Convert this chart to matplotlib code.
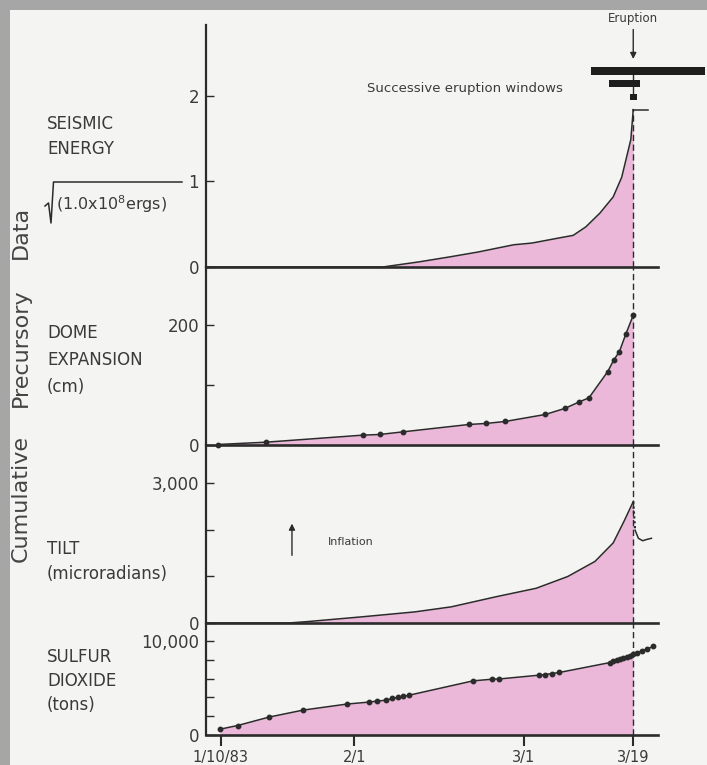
import numpy as np
import matplotlib.pyplot as plt
from matplotlib.patches import Rectangle
from matplotlib.lines import Line2D

# x values are days after 10 Jan 1983; eruption on 19 Mar
eruption_day = 68
date_ticks = [0, 22, 50, 68]
date_labels = ['1/10/83', '2/1', '3/1', '3/19']

seis_day = [-2.4, 26.7, 32.7, 37.9, 42.4, 48.3, 51.3, 55.8, 58.1, 60.2, 62.5, 64.7, 66.1, 67.6, 68.0]
seis_val = [0, 0, 0.06, 0.12, 0.175, 0.26, 0.28, 0.34, 0.37, 0.47, 0.63, 0.82, 1.05, 1.49, 1.84]
seis_end_day = [68.0, 70.4]
seis_end_val = [1.84, 1.84]

dome_day = [-0.5, 7.5, 23.4, 26.2, 30.1, 40.9, 43.7, 46.9, 53.5, 56.7, 59.1, 60.7,
            63.8, 64.8, 65.7, 66.8, 68.0]
dome_cm = [0, 3.9, 15.7, 16.8, 21.3, 33.6, 35.3, 38.7, 50.4, 60.5, 71.5, 78.4,
           122.5, 142, 155.5, 186, 217]

tilt_day = [-2.4, 11.2, 14.2, 23.1, 32.0, 38.0, 45.4, 52.0, 57.2, 61.7, 64.7, 66.5, 68.0]
tilt_val = [0, 0, 29, 130, 238, 346, 563, 744, 996, 1320, 1717, 2185, 2600]
tilt_drop_day = [68.0, 68.3]
tilt_drop_val = [2600, 1990]
tilt_after_day = [68.3, 68.85, 69.55, 70.3, 71.0]
tilt_after_val = [1990, 1815, 1763, 1793, 1815]

so2_day = [-0.1, 2.8, 8.0, 13.6, 20.8, 24.4, 25.7, 27.3, 28.3, 29.2, 30.1, 31.1,
           41.6, 44.8, 45.9, 52.4, 53.5, 54.6, 55.8,
           64.2, 64.7, 65.3, 65.8, 66.3, 66.9, 67.5, 68.0, 68.7, 69.4, 70.3, 71.3]
so2_tons = [620, 1010, 1910, 2650, 3290, 3500, 3600, 3710, 3890, 4000, 4100, 4240,
            5760, 5940, 5960, 6360, 6430, 6540, 6650,
            7710, 7870, 7980, 8090, 8160, 8300, 8440, 8620, 8760, 8940, 9150, 9420]

# successive eruption windows (start, end day)
win_start = [61.1, 64.0, 67.5]
win_end = [79.9, 69.1, 68.7]

ink = '#2b2b2b'
txt = '#3a3a3a'
pink = '#ebb8da'
plt.rcParams['font.family'] = ['DejaVu Sans']

W, H = 707, 765
fig = plt.figure(figsize=(W / 100, H / 100), dpi=100)
fig.patch.set_facecolor('#a6a6a6')
fig.add_artist(Rectangle((10 / W, 0), 1 - 10 / W, 1 - 10 / H, transform=fig.transFigure,
                         facecolor='#f4f5f2', edgecolor='none', zorder=-5))


def fx(x):
    return x / W


def fy(y):
    return 1 - y / H


def panel(top, bottom, ymax, ticks, labels):
    ax = fig.add_axes([fx(206), fy(bottom), (658 - 206) / W, (bottom - top) / H])
    ax.set_xlim(-2.42, 72.08)
    ax.set_ylim(0, ymax)
    ax.patch.set_alpha(0)
    for s in ['top', 'right', 'bottom']:
        ax.spines[s].set_visible(False)
    ax.spines['left'].set_linewidth(1.6)
    ax.spines['left'].set_color(ink)
    ax.set_yticks(ticks, labels)
    ax.tick_params(axis='y', direction='in', length=6, width=1, pad=5,
                   labelsize=12, color=ink, labelcolor=txt)
    ax.set_xticks([])
    ax.axhline(0, color=ink, lw=1.9, clip_on=False, zorder=4)
    return ax


ax1 = panel(25, 267, 2.83, [0, 1, 2], ['0', '1', '2'])
ax2 = panel(267, 444.5, 298, [0, 100, 200], ['0', '', '200'])
ax3 = panel(444.5, 623, 3825, [0, 1000, 2000, 3000], ['0', '', '', '3,000'])
ax4 = panel(623, 735, 11915, [0, 2000, 4000, 6000, 8000, 10000],
            ['0', '', '', '', '', '10,000'])

dash = (0, (4.5, 2.5))


def curve(ax, d, v, marker=None):
    d = np.asarray(d)
    v = np.asarray(v)
    ax.fill_between(d, v, 0, where=d <= eruption_day, color=pink, lw=0, zorder=1)
    ax.plot(d, v, color=ink, lw=1.1, marker=marker, ms=3.2, zorder=5, clip_on=False)


# seismic energy
curve(ax1, seis_day, seis_val)
ax1.plot(seis_end_day, seis_end_val, color=ink, lw=1.1, zorder=5)
ax1.vlines(eruption_day, 0, seis_val[-1], color=ink, lw=1, linestyle=dash, zorder=3)
bars = ax1.barh([2.295, 2.144, 1.99], np.subtract(win_end, win_start), left=win_start,
                height=[0.097, 0.085, 0.067], color='#1e1e1e', zorder=6)
for b in bars:
    b.set_clip_on(False)
ax1.plot([eruption_day, eruption_day], [1.99, 2.3], color=ink, lw=1, zorder=5)
ax1.annotate('', xy=(eruption_day, 2.40), xytext=(eruption_day, 2.81),
             arrowprops=dict(arrowstyle='-|>', color=ink, lw=1, mutation_scale=9),
             annotation_clip=False)
ax1.text(eruption_day, 2.91, 'Eruption', ha='center', va='center', fontsize=8.5, color=txt)
ax1.text(40.2, 2.09, 'Successive eruption windows', ha='center', va='center',
         fontsize=9.5, color=txt)

# dome expansion
curve(ax2, dome_day, dome_cm, marker='o')
ax2.axvline(eruption_day, color=ink, lw=1, linestyle=dash, zorder=3)

# tilt
curve(ax3, tilt_day, tilt_val)
ax3.plot(tilt_drop_day, tilt_drop_val, color=ink, lw=1.6, linestyle=(0, (1, 1.2)), zorder=5)
ax3.plot(tilt_after_day, tilt_after_val, color=ink, lw=1.1, zorder=5, clip_on=False)
ax3.axvline(eruption_day, color=ink, lw=1, linestyle=dash, zorder=3)
ax3.annotate('', xy=(11.75, 2190), xytext=(11.75, 1390),
             arrowprops=dict(arrowstyle='-|>', color=ink, lw=1, mutation_scale=9))
ax3.text(21.5, 1736, 'Inflation', ha='center', va='center', fontsize=8, color=txt)

# sulfur dioxide
curve(ax4, so2_day, so2_tons, marker='o')
ax4.axvline(eruption_day, color=ink, lw=1, linestyle=dash, zorder=3)
ax4.set_xticks(date_ticks, date_labels)
ax4.tick_params(axis='x', direction='out', length=8, width=1.5, pad=2.5,
                labelsize=10.5, color=ink, labelcolor=txt)

# panel labels
lab = dict(fontsize=12, color=txt, ha='left', va='center')
fig.text(fx(47), fy(124), 'SEISMIC', **lab)
fig.text(fx(47), fy(149), 'ENERGY', **lab)
fig.text(fx(56), fy(204), '(1.0x10$^{8}$ergs)', fontsize=11.5, color=txt, ha='left', va='center')
fig.add_artist(Line2D([fx(45), fx(48.5), fx(51), fx(53.5), fx(182)],
                      [fy(206), fy(203), fy(223), fy(182), fy(182)],
                      transform=fig.transFigure, color=ink, lw=1.1))
fig.text(fx(47), fy(333), 'DOME', **lab)
fig.text(fx(47), fy(360), 'EXPANSION', **lab)
fig.text(fx(47), fy(387), '(cm)', **lab)
fig.text(fx(47), fy(549), 'TILT', **lab)
fig.text(fx(47), fy(574), '(microradians)', **lab)
fig.text(fx(47), fy(657), 'SULFUR', **lab)
fig.text(fx(47), fy(681), 'DIOXIDE', **lab)
fig.text(fx(47), fy(705), '(tons)', **lab)

side = dict(fontsize=16, color='#444444', rotation=90, ha='center', va='center')
fig.text(fx(21), fy(232), 'Data', **side)
fig.text(fx(21), fy(348), 'Precursory', **side)
fig.text(fx(21), fy(499), 'Cumulative', **side)

fig.savefig('out.png', dpi=100, facecolor=fig.get_facecolor())
